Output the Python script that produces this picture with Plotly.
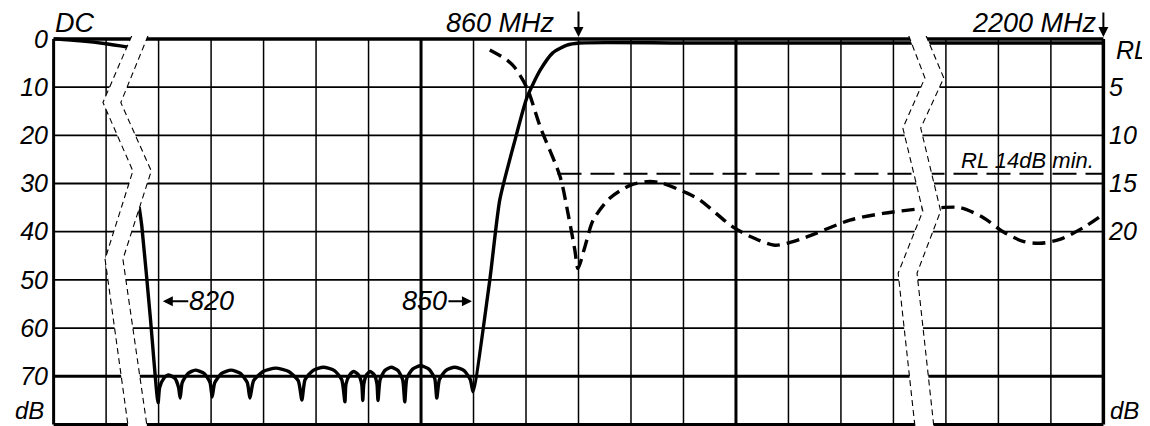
import plotly.graph_objects as go

# ---------------- data (x in grid divisions, y in dB / RL) ----------------
# Insertion-loss (solid) curve, left scale dB; None separates the DC piece
s21_x = [0.00, 0.50, 1.00, 1.42, None,
         1.63, 1.68, 1.84, 1.99,
         2.02, 2.10, 2.18, 2.31, 2.38, 2.41,
         2.45, 2.56, 2.70, 2.87, 2.98, 3.02,
         3.07, 3.20, 3.38, 3.56, 3.69, 3.74,
         3.81, 3.99, 4.23, 4.48, 4.66, 4.73,
         4.79, 4.94, 5.14, 5.35, 5.49, 5.55,
         5.57, 5.64, 5.72, 5.81, 5.87, 5.89,
         5.91, 5.96, 6.03, 6.11, 6.16, 6.18,
         6.22, 6.31, 6.43, 6.56, 6.65, 6.69,
         6.73, 6.84, 6.99, 7.15, 7.26, 7.30,
         7.35, 7.47, 7.64, 7.82, 7.94, 7.99,
         8.31, 8.50, 8.79, 9.02, 9.27, 9.51, 9.78, 10.01, 12.0, 16.0, 20.0]
s21_y = [0.0, 0.4, 1.0, 1.7, None,
         34.9, 38.8, 57.5, 75.5,
         72.3, 70.4, 69.7, 70.4, 72.3, 74.5,
         71.3, 69.4, 68.7, 69.4, 71.3, 74.3,
         71.3, 69.4, 68.7, 69.4, 71.3, 74.5,
         70.9, 69.0, 68.3, 69.0, 70.9, 74.9,
         70.7, 68.8, 68.1, 68.8, 70.7, 75.3,
         71.6, 69.7, 69.0, 69.7, 71.6, 75.0,
         71.6, 69.7, 69.0, 69.7, 71.6, 75.0,
         70.7, 68.8, 68.1, 68.8, 70.7, 75.3,
         70.4, 68.5, 67.8, 68.5, 70.4, 74.5,
         70.7, 68.8, 68.1, 68.8, 70.7, 73.2,
         50.0, 33.4, 21.0, 12.1, 6.5, 2.9, 1.3, 0.85, 0.85, 0.85, 0.85]

# Return-loss (dashed) curve, right scale RL
rl_x = [8.31, 8.64, 8.79, 9.02, 9.27, 9.65, 9.80, 9.93, 9.99, 10.12, 10.28,
        10.60, 10.98, 11.30, 11.55, 12.07, 12.31, 12.94, 13.32, 13.74, 14.22,
        15.17, 15.80, 16.56, 16.89, 17.27, 17.70, 18.09, 18.47, 18.79, 19.17,
        19.61, 19.97]
rl_y = [1.15, 2.2, 3.0, 5.1, 9.1, 14.3, 18.1, 21.9, 23.8, 21.6, 18.8,
        16.5, 15.2, 14.8, 14.9, 16.0, 16.7, 19.5, 20.6, 21.4, 20.8,
        18.8, 18.1, 17.6, 17.5, 17.5, 18.5, 20.0, 21.0, 21.2, 20.8,
        19.6, 18.3]

# RL 14 dB minimum spec line
spec_x = [9.60, 20.0]
spec_y = [14, 14]

# tick labels
left_tickvals = [0, 10, 20, 30, 40, 50, 60, 70]
left_ticktext = ["0", "10", "20", "30", "40", "50", "60", "70"]
right_tickvals = [5, 10, 15, 20]
right_ticktext = ["5", "10", "15", "20"]

# axis-break zigzags (left and right dashed edges)
brk1_left_x = [1.49, 0.94, 1.51, 0.98, 1.42]
brk1_right_x = [1.80, 1.28, 1.86, 1.32, 1.78]
brk1_y = [-0.7, 13.2, 27.4, 45.7, 80.4]
brk2_left_x = [16.29, 16.60, 16.18, 16.56, 16.09, 16.41]
brk2_right_x = [16.62, 16.96, 16.52, 16.90, 16.45, 16.77]
brk2_y = [-0.7, 8.1, 18.5, 35.7, 48.6, 80.4]

FONT = "Liberation Sans, Arial, sans-serif"

# layout geometry (page has an 8px body margin)
OFF = 8
ML, MR, MT, MB = 43, 52, 28, 8
W, H = 1150, 426
PW, PH = W - ML - MR, H - MT - MB


def px(X):
    return (X - OFF - ML) / PW


def py(Y):
    return 1 - (Y - OFF - MT) / PH


fig = go.Figure()

fig.add_trace(go.Scatter(x=s21_x, y=s21_y, mode="lines", connectgaps=False,
                         line=dict(color="black", width=3.4, shape="spline", smoothing=0.6),
                         showlegend=False, hoverinfo="skip"))
fig.add_trace(go.Scatter(x=rl_x, y=rl_y, mode="lines", yaxis="y2",
                         line=dict(color="black", width=3.4, dash="13px,7px", shape="spline", smoothing=0.8),
                         showlegend=False, hoverinfo="skip"))
fig.add_trace(go.Scatter(x=spec_x, y=spec_y, mode="lines", yaxis="y2",
                         line=dict(color="black", width=2, dash="24px,9px"),
                         showlegend=False, hoverinfo="skip"))

shapes = []
# vertical grid
for i in range(1, 20):
    w = 3 if i in (7, 13) else 1.5
    shapes.append(dict(type="line", xref="x", yref="y", x0=i, x1=i, y0=0, y1=80,
                       line=dict(color="black", width=w), layer="below"))
# horizontal grid
for v in range(10, 80, 10):
    w = 3 if v == 70 else 1.8
    shapes.append(dict(type="line", xref="x", yref="y", x0=0, x1=20, y0=v, y1=v,
                       line=dict(color="black", width=w), layer="below"))
# frame
shapes.append(dict(type="line", xref="x", yref="y", x0=0, x1=20, y0=0, y1=0,
                   line=dict(color="black", width=3.5), layer="above"))
shapes.append(dict(type="line", xref="x", yref="y", x0=0, x1=20, y0=80, y1=80,
                   line=dict(color="black", width=3), layer="above"))
shapes.append(dict(type="line", xref="x", yref="y", x0=0, x1=0, y0=0, y1=80,
                   line=dict(color="black", width=3), layer="above"))
shapes.append(dict(type="line", xref="x", yref="y", x0=20, x1=20, y0=0, y1=80,
                   line=dict(color="black", width=3.5), layer="above"))


def poly_path(xl, xr, ys):
    pts = list(zip(xl, ys)) + list(zip(xr, ys))[::-1]
    return "M " + " L ".join(f"{x},{y}" for x, y in pts) + " Z"


def line_path(xs, ys):
    return "M " + " L ".join(f"{x},{y}" for x, y in zip(xs, ys))


for xl, xr, ys in [(brk1_left_x, brk1_right_x, brk1_y), (brk2_left_x, brk2_right_x, brk2_y)]:
    shapes.append(dict(type="path", xref="x", yref="y", path=poly_path(xl, xr, ys),
                       fillcolor="white", line=dict(width=0), layer="above"))
    for xs in (xl, xr):
        shapes.append(dict(type="path", xref="x", yref="y", path=line_path(xs, ys),
                           fillcolor="rgba(0,0,0,0)",
                           line=dict(color="black", width=1.1, dash="6px,4px"), layer="above"))

ann_font = dict(family=FONT, size=27, color="black", style="italic")
lab_font = dict(family=FONT, size=24, color="black", style="italic")


def txt(X, Y, s, anchor, font):
    return dict(xref="paper", yref="paper", x=px(X), y=py(Y), text=s, xanchor=anchor,
                yanchor="middle", showarrow=False, font=font)


annotations = [
    txt(53, 23, "DC", "left", ann_font),
    txt(557, 23, "860 MHz", "right", ann_font),
    txt(1099, 23, "2200 MHz", "right", ann_font),
    txt(187, 301, "820", "left", ann_font),
    txt(449, 301, "850", "right", ann_font),
    txt(1096, 160, "RL 14dB min.", "right", dict(family=FONT, size=22, color="black", style="italic")),
    txt(1114, 50, "RL", "left", dict(family=FONT, size=25, color="black", style="italic")),
    txt(1108, 410, "dB", "left", lab_font),
    txt(46, 410, "dB", "right", lab_font),
    dict(x=10.0, y=-0.4, text="", showarrow=True, ax=0, ay=-27, arrowhead=2, arrowsize=1,
         arrowwidth=2, arrowcolor="black"),
    dict(x=20.0, y=-0.4, text="", showarrow=True, ax=0, ay=-26, arrowhead=2, arrowsize=1,
         arrowwidth=2, arrowcolor="black"),
    dict(x=2.08, y=54.4, text="", showarrow=True, ax=27, ay=0, arrowhead=2, arrowsize=1,
         arrowwidth=2, arrowcolor="black"),
    dict(x=7.97, y=54.4, text="", showarrow=True, ax=-25, ay=0, arrowhead=2, arrowsize=1,
         arrowwidth=2, arrowcolor="black"),
]

tick_font = dict(family=FONT, size=25, color="black", style="italic")
fig.update_layout(
    width=W, height=H,
    margin=dict(l=ML, r=MR, t=MT, b=MB, pad=0),
    paper_bgcolor="white", plot_bgcolor="white",
    xaxis=dict(range=[-0.05, 20.05], visible=False, fixedrange=True),
    yaxis=dict(range=[80.3, -0.6], tickvals=left_tickvals, ticktext=left_ticktext,
               tickfont=tick_font, showgrid=False, zeroline=False, ticks="", showline=False,
               ticklabelstandoff=2),
    yaxis2=dict(range=[40.15, -0.3], overlaying="y", side="right", tickvals=right_tickvals,
                ticktext=right_ticktext, tickfont=tick_font, showgrid=False, zeroline=False,
                ticks="", showline=False, ticklabelstandoff=2),
    shapes=shapes, annotations=annotations, showlegend=False,
)

fig.write_html("out.html")
